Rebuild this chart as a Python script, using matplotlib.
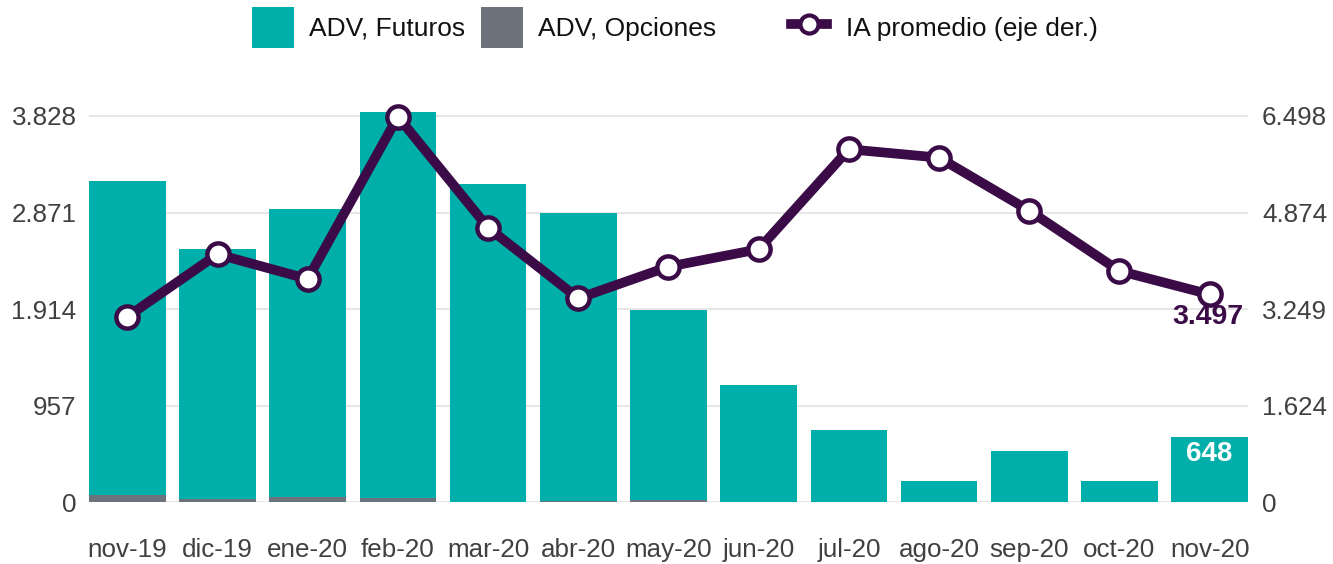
import matplotlib
matplotlib.use("Agg")
import matplotlib.pyplot as plt
from matplotlib.patches import Patch
from matplotlib.lines import Line2D
import numpy as np

months = ["nov-19", "dic-19", "ene-20", "feb-20", "mar-20", "abr-20", "may-20",
          "jun-20", "jul-20", "ago-20", "sep-20", "oct-20", "nov-20"]
adv_opciones = [70, 33, 56, 46, 3, 10, 23, 0, 0, 0, 0, 0, 0]
adv_futuros = [3117, 2477, 2847, 3822, 3148, 2854, 1883, 1159, 716, 214, 508, 211, 648]
ia_promedio = [3122, 4172, 3756, 6486, 4619, 3431, 3963, 4256, 5938, 5797, 4905, 3891, 3497]
left_ticks = [0, 957, 1914, 2871, 3828]
right_ticks = [0, 1624, 3249, 4874, 6498]

TEAL = "#00AFA9"
GRAY = "#6C737D"
PURPLE = "#3A0B46"
TXT = "#404040"

plt.rcParams["font.family"] = ["Liberation Sans", "DejaVu Sans"]

fig = plt.figure(figsize=(13.33, 5.64), dpi=100)
ax = fig.add_axes([89 / 1333, 61.7 / 564, (1248 - 89) / 1333, (502.3 - 98.6) / 564])
x = np.arange(len(months))

ax.bar(x, adv_opciones, width=0.85, color=GRAY, zorder=2)
ax.bar(x, adv_futuros, width=0.85, bottom=adv_opciones, color=TEAL, zorder=2)

top_left = 4000
ax.set_ylim(0, top_left)
ax.set_xlim(-0.425, len(months) - 1 + 0.425)
ax.set_yticks(left_ticks)
fmt = lambda v: f"{v:,}".replace(",", ".")
ax.set_yticklabels([fmt(v) for v in left_ticks])
ax.set_xticks(x)
ax.set_xticklabels(months)
ax.grid(axis="y", color="#E3E3E3", linewidth=1.2, zorder=0)
ax.set_axisbelow(True)
for s in ax.spines.values():
    s.set_visible(False)
ax.tick_params(axis="y", length=0, pad=9, labelsize=18.7, labelcolor=TXT)
ax.tick_params(axis="x", length=0, pad=26, labelsize=18.7, labelcolor=TXT)

ax2 = ax.twinx()
ax2.set_ylim(0, top_left * right_ticks[-1] / left_ticks[-1])
ax2.set_yticks(right_ticks)
ax2.set_yticklabels([fmt(v) for v in right_ticks])
for s in ax2.spines.values():
    s.set_visible(False)
ax2.tick_params(axis="y", length=0, pad=10, labelsize=18.7, labelcolor=TXT)
ax2.plot(x, ia_promedio, color=PURPLE, linewidth=7, marker="o", markersize=16,
         markerfacecolor="white", markeredgecolor=PURPLE, markeredgewidth=3.2,
         solid_joinstyle="round", zorder=5, clip_on=False)

ax2.annotate(fmt(ia_promedio[-1]), (x[-1], ia_promedio[-1]), xytext=(-1, -7),
             textcoords="offset points", ha="center", va="top",
             fontsize=20.5, fontweight="bold", color=PURPLE, zorder=6)
last_total = adv_futuros[-1] + adv_opciones[-1]
ax.annotate(fmt(last_total), (x[-1], last_total), xytext=(0, -3),
            textcoords="offset points", ha="center", va="top",
            fontsize=20, fontweight="bold", color="white", zorder=6)

LEG_FS = 19
bar_handles = [Patch(facecolor=TEAL, edgecolor="none"),
               Patch(facecolor=GRAY, edgecolor="none")]
leg1 = fig.legend(bar_handles, ["ADV, Futuros", "ADV, Opciones"], loc="center left",
                  bbox_to_anchor=(252 / 1333, 1 - 27.5 / 564), ncol=2, frameon=False,
                  fontsize=LEG_FS, handlelength=1.59, handleheight=2.05,
                  handletextpad=0.57, columnspacing=0.6, borderpad=0,
                  borderaxespad=0, labelcolor="#111111")
line_handle = Line2D([0], [0], color=PURPLE, linewidth=7, marker="o", markersize=13,
                     markerfacecolor="white", markeredgecolor=PURPLE, markeredgewidth=3)
leg2 = fig.legend([line_handle], ["IA promedio (eje der.)"], loc="center left",
                  bbox_to_anchor=(791 / 1333, 1 - 27.5 / 564), frameon=False,
                  fontsize=LEG_FS, handlelength=1.36, handleheight=1.55,
                  handletextpad=0.72, borderpad=0, borderaxespad=0,
                  labelcolor="#111111")

fig.savefig("out.png", dpi=100)
